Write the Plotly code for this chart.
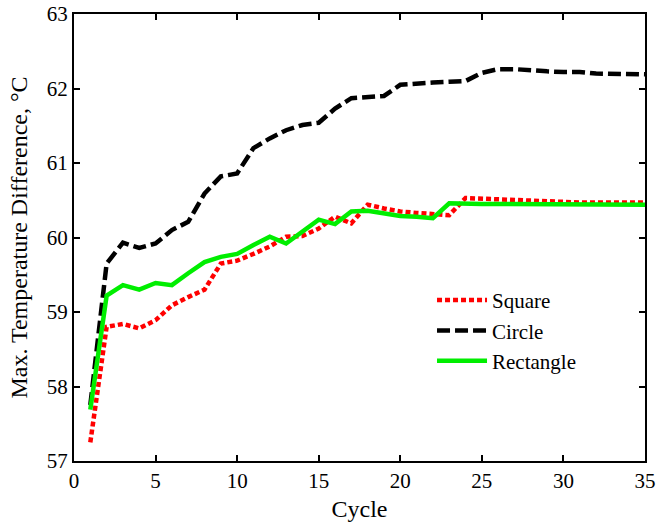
import plotly.graph_objects as go

cycles = list(range(1, 36))

square = [57.25, 58.80, 58.84, 58.78, 58.89, 59.09, 59.20, 59.30, 59.65, 59.69,
          59.78, 59.88, 60.01, 60.02, 60.12, 60.28, 60.19, 60.44, 60.39, 60.35,
          60.33, 60.31, 60.30, 60.53, 60.52, 60.51, 60.50, 60.49, 60.48, 60.48,
          60.47, 60.47, 60.47, 60.47, 60.47]

circle = [57.75, 59.65, 59.93, 59.86, 59.92, 60.10, 60.21, 60.59, 60.82, 60.86,
          61.20, 61.33, 61.44, 61.51, 61.54, 61.73, 61.87, 61.88, 61.90, 62.05,
          62.07, 62.08, 62.09, 62.10, 62.21, 62.26, 62.26, 62.24, 62.23, 62.22,
          62.22, 62.20, 62.20, 62.20, 62.19]

rectangle = [57.69, 59.22, 59.36, 59.30, 59.39, 59.36, 59.52, 59.67, 59.74, 59.78,
             59.90, 60.01, 59.92, 60.08, 60.24, 60.18, 60.35, 60.36, 60.32, 60.29,
             60.28, 60.26, 60.46, 60.45, 60.45, 60.45, 60.45, 60.44, 60.45, 60.45,
             60.44, 60.44, 60.44, 60.44, 60.44]

x_ticks = [0, 5, 10, 15, 20, 25, 30, 35]
y_ticks = [57, 58, 59, 60, 61, 62, 63]

FONT = "Liberation Serif, Times New Roman, serif"

fig = go.Figure()
fig.add_trace(go.Scatter(x=cycles, y=square, mode="lines", name="Square",
                         line=dict(color="#ff0000", width=4.5, dash="5px,3px")))
fig.add_trace(go.Scatter(x=cycles, y=circle, mode="lines", name="Circle",
                         line=dict(color="#000000", width=4.5, dash="13px,5px")))
fig.add_trace(go.Scatter(x=cycles, y=rectangle, mode="lines", name="Rectangle",
                         line=dict(color="#00ee00", width=4.5)))

axis_common = dict(
    showline=True, linecolor="black", linewidth=2, mirror="ticks",
    ticks="inside", ticklen=6, tickwidth=1.5, tickcolor="black",
    showgrid=False, zeroline=False, automargin=False,
    tickfont=dict(family=FONT, size=21, color="black"),
)

fig.update_layout(
    width=656, height=524,
    margin=dict(l=74, r=11, t=14, b=63),
    paper_bgcolor="white", plot_bgcolor="white",
    font=dict(family=FONT, color="black"),
    xaxis=dict(range=[0, 35], tickvals=x_ticks,
               title=dict(text="Cycle", font=dict(family=FONT, size=24), standoff=8),
               **axis_common),
    yaxis=dict(range=[57, 63], tickvals=y_ticks,
               title=dict(text="Max. Temperature Difference, °C",
                          font=dict(family=FONT, size=24), standoff=12),
               **axis_common),
    legend=dict(x=0.627, y=0.405, xanchor="left", yanchor="top",
                bgcolor="rgba(0,0,0,0)", borderwidth=0,
                font=dict(family=FONT, size=21, color="black"),
                itemwidth=50, tracegroupgap=0),
    showlegend=True,
)

fig.write_html("out.html", config={"displayModeBar": False},
               post_script="document.body.style.margin='0';")
